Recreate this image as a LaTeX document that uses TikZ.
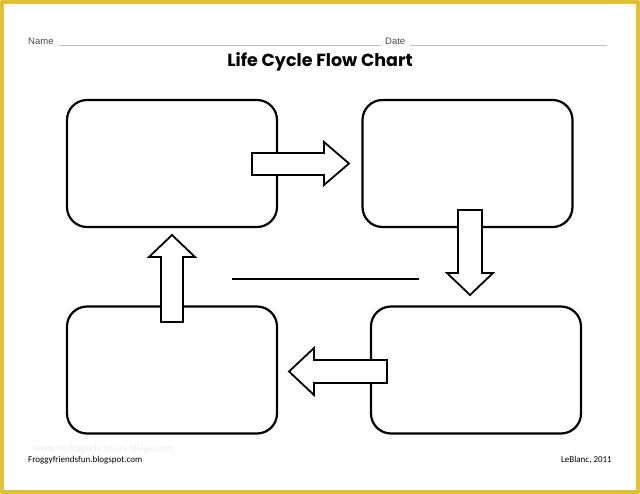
\documentclass[tikz,border=0pt]{standalone}
\usepackage{fontspec}
\setmainfont{Liberation Sans}
\newfontfamily\titlefont{Poppins}
\newfontfamily\footfont{Carlito}
\usepackage{tikz}
\usetikzlibrary{arrows.meta,calc}
\usetikzlibrary{positioning}
\definecolor{frameyellow}{RGB}{224,194,52}
\tikzset{stagebox/.style={draw,line width=2.2pt,rounded corners=20pt,fill=white,minimum width=210pt,minimum height=127pt,inner sep=0pt},
  blockarrow/.style={draw,line width=1.8pt,fill=white,line join=miter},
  blankline/.style={draw,gray!50,line width=0.5pt}}

\begin{document}
\begin{tikzpicture}[x=1pt,y=-1pt,line join=round]
% --- page and frame
\useasboundingbox (0,0) rectangle (640,494);
\fill[white] (0,0) rectangle (640,494);
\draw[frameyellow,line width=4pt] (2,2) rectangle (638,492);
% --- header: name, date, title
\node[gray!60!black,anchor=west,inner sep=1pt,font=\fontsize{9.5}{11}\selectfont] (name) at (27,41) {Name};
\node[gray!60!black,anchor=west,inner sep=1pt,font=\fontsize{9.5}{11}\selectfont] (date) at (384,41) {Date};
\coordinate (nameend) at (381,45); \coordinate (dateend) at (607,45);
\draw[blankline] (name.east |- nameend) ++(4,0) -- (nameend);
\draw[blankline] (date.east |- dateend) ++(4,0) -- (dateend);
\node[font=\titlefont\bfseries\fontsize{17.5}{20}\selectfont] (title) at (320,62) {Life Cycle Flow Chart};
% --- the four stages
\node[stagebox] (stage1) at (172,163.5) {};
\node[stagebox] (stage2) at (467.5,163.5) {};
\node[stagebox] (stage3) at (476,370) {};
\node[stagebox] (stage4) at (172,370) {};
% --- block arrows between the stages
\draw[blockarrow] (252,153) -- (324,153) -- (324,142) -- (349,163.5) -- (324,185) -- (324,175) -- (252,175) -- cycle; % 1 -> 2
\draw[blockarrow] (458,210) -- (482,210) -- (482,273) -- (493,273) -- (470,295) -- (447,273) -- (458,273) -- cycle; % 2 -> 3
\draw[blockarrow] (387,360) -- (314,360) -- (314,348) -- (289,371.5) -- (314,395) -- (314,383) -- (387,383) -- cycle; % 3 -> 4
\draw[blockarrow] (161,322) -- (161,257) -- (149,257) -- (172,235) -- (195,257) -- (183,257) -- (183,322) -- cycle; % 4 -> 1
% --- blank for the cycle name
\coordinate (lineL) at (232,279); \coordinate (lineR) at (419,279);
\draw[line width=1.6pt] (lineL) -- (lineR);
% --- footer
\node[gray!15,anchor=west,inner sep=0pt,font=\footfont\fontsize{10}{11}\selectfont] (mark) at (33,449) {www.heritagechristiancollege.com};
\node[anchor=west,inner sep=0pt,font=\footfont\fontsize{9}{10}\selectfont] (blog) at (28,460) {Froggyfriendsfun.blogspot.com};
\node[anchor=east,inner sep=0pt,font=\footfont\fontsize{9}{10}\selectfont] (author) at (612,460) {LeBlanc, 2011};
\end{tikzpicture}
\end{document}
